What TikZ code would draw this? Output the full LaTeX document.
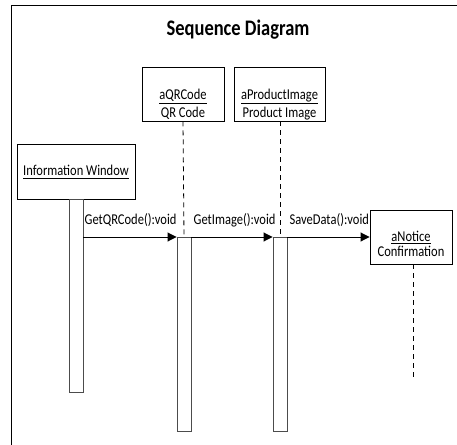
\documentclass[tikz,border=0pt]{standalone}
\usepackage{fontspec}
\setmainfont{Carlito}
\usetikzlibrary{arrows.meta}
\newcommand{\vstretch}[1]{\scalebox{1}[1.2]{#1}}
\newcommand{\twolines}[2]{\vstretch{\begin{tabular}{@{}c@{}}#1\\#2\end{tabular}}}
\tikzset{
  objbox/.style={draw=black, line width=0.9pt, fill=white, inner sep=0pt},
  actbox/.style={draw=black!70, line width=0.9pt, fill=white, inner sep=0pt, minimum width=14pt, anchor=north},
  lifeline/.style={draw=black, line width=0.8pt, dash pattern=on 5pt off 4pt},
  msg/.style={draw=black, line width=0.9pt, -{Triangle[length=9pt,width=9pt]}},
  txt/.style={font=\fontsize{12.5}{15}\selectfont, inner sep=0pt, align=center},
  msglabel/.style={font=\fontsize{12.5}{15}\selectfont, inner sep=0pt, anchor=south west},
  frameline/.style={draw=black, line width=1.4pt}
}
\begin{document}
\begin{tikzpicture}[x=1pt,y=-1pt]
\useasboundingbox (0,0) rectangle (457,444);
% frame
\coordinate (fTR) at (460,5.5);
\coordinate (fTL) at (11.5,5.5);
\coordinate (fBL) at (11.5,450);
\draw[frameline] (fTR) -- (fTL) -- (fBL);
% title
\node[font=\fontsize{18.5}{22}\selectfont\bfseries, inner sep=0pt] (title) at (238,30) {\vstretch{Sequence Diagram}};
% object boxes
\node[objbox, minimum width=82pt, minimum height=54pt] (qr) at (183,94) {};
\node[txt] (qrtxt) at (183,104.5) {\twolines{\underline{aQRCode}}{QR Code}};
\node[objbox, minimum width=91pt, minimum height=54pt] (pi) at (279.5,94) {};
\node[txt] (pitxt) at (279.5,104.5) {\twolines{\underline{aProductImage}}{Product Image}};
\node[objbox, minimum width=118pt, minimum height=55pt] (info) at (76,171.5) {};
\node[txt] (infotxt) at (76,172) {\vstretch{\underline{Information Window}}};
\node[objbox, minimum width=82pt, minimum height=54pt] (notice) at (411,237) {};
\node[txt, font=\fontsize{12.5}{11.5}\selectfont] (noticetxt) at (411,246) {\twolines{\underline{aNotice}}{Confirmation}};
% activations
\node[actbox, minimum height=193pt] (actinfo) at (76,199) {};
\node[actbox, minimum height=194pt] (actqr) at (184,237) {};
\node[actbox, minimum height=194pt] (actpi) at (280,237) {};
% lifelines
\coordinate (nlend) at (413,380);
\draw[lifeline] (qr.south) -- (actqr.north);
\draw[lifeline] (pi.south -| actpi.north) -- (actpi.north);
\draw[lifeline] (notice.south -| nlend) -- (nlend);
% messages
\draw[msg] (actinfo.east |- actqr.north) -- (actqr.north west);
\draw[msg] (actqr.north east) -- (actpi.north west);
\draw[msg] (actpi.north east) -- (notice.west |- actpi.north);
\node[msglabel] (m1) at ([xshift=1pt,yshift=10pt]actinfo.east |- actqr.north) {\vstretch{GetQRCode():void}};
\node[msglabel] (m2) at ([xshift=2pt,yshift=10pt]actqr.north east) {\vstretch{GetImage():void}};
\node[msglabel] (m3) at ([xshift=2pt,yshift=10pt]actpi.north east) {\vstretch{SaveData():void}};
\end{tikzpicture}
\end{document}
